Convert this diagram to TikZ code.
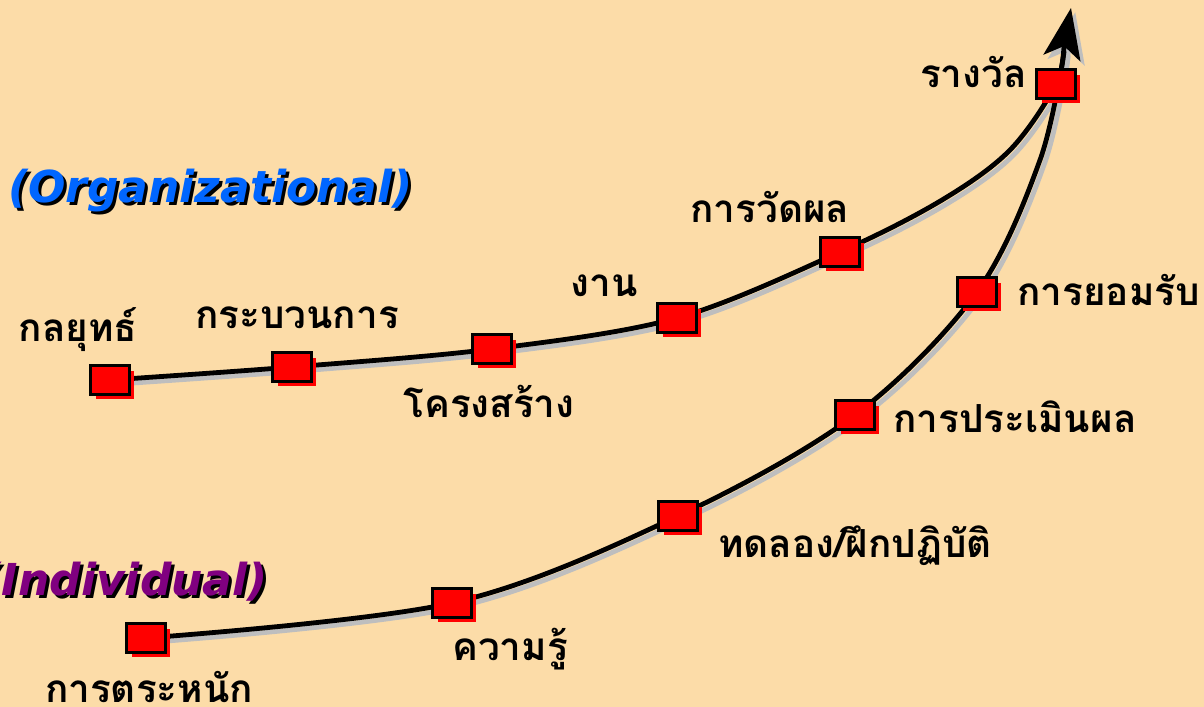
\documentclass[tikz,border=0pt]{standalone}
\usepackage{fontspec}
\newfontfamily\thaifont[Script=Thai]{Loma}
\newfontfamily\latfont{DejaVu Sans}
\usetikzlibrary{arrows.meta,shadows}
\definecolor{bg}{HTML}{FCDCA8}
\definecolor{orgblue}{HTML}{0066FF}
\definecolor{indpurple}{HTML}{800080}
\definecolor{lineshadow}{HTML}{BEBEBE}
\tikzset{
  sq/.style={draw=black, line width=2.2pt, fill=red, minimum width=29pt, minimum height=21.5pt, inner sep=0pt,
    drop shadow={fill=red, opacity=1, shadow xshift=3.8pt, shadow yshift=-3.8pt}},
  lbl/.style={font=\thaifont\bfseries\fontsize{29}{31}\selectfont, inner sep=0pt, text=black},
  ttl/.style={font=\latfont\bfseries\itshape\fontsize{33}{36}\selectfont, inner sep=0pt},
  curve/.style={line width=3.6pt, line cap=round},
  tip/.style={-{Stealth[length=38pt, width=28pt, inset=9pt]}},
}
\begin{document}
\begin{tikzpicture}[x=0.75pt,y=-0.75pt]
\fill[bg] (0,0) rectangle (1204,707);
\useasboundingbox (0,0) rectangle (1204,707);
% path points
\coordinate (u1) at (110,380);
\coordinate (u2) at (292,367);
\coordinate (u3) at (492,349);
\coordinate (u4) at (677,318);
\coordinate (u5) at (840,252);
\coordinate (ua) at (942,200);
\coordinate (ub) at (1010,150);
\coordinate (u6) at (1056,84);
\coordinate (uc) at (1065,40);
\coordinate (ut) at (1071,8);
\coordinate (l1) at (146,638);
\coordinate (l2) at (452,603);
\coordinate (l3) at (678,516);
\coordinate (l4) at (855,415);
\coordinate (l5) at (977,292);
\coordinate (l6) at (1040,160);
\coordinate (le) at (1064,52);
% shadows of the curves
\begin{scope}[transform canvas={xshift=3.2pt,yshift=-3.2pt}, lineshadow, draw=lineshadow, fill=lineshadow]
  \draw[curve, tip] plot[smooth, tension=0.55] coordinates {(u1) (u2) (u3) (u4) (u5) (ua) (ub) (u6) (uc) (ut)};
  \draw[curve] plot[smooth, tension=0.55] coordinates {(l1) (l2) (l3) (l4) (l5) (l6) (le)};
\end{scope}
% curves
\draw[curve] plot[smooth, tension=0.55] coordinates {(l1) (l2) (l3) (l4) (l5) (l6) (le)};
\draw[curve, tip] plot[smooth, tension=0.55] coordinates {(u1) (u2) (u3) (u4) (u5) (ua) (ub) (u6) (uc) (ut)};
% squares
\node[sq] (su1) at (u1) {};
\node[sq] (su2) at (u2) {};
\node[sq] (su3) at (u3) {};
\node[sq] (su4) at (u4) {};
\node[sq] (su5) at (u5) {};
\node[sq] (su6) at (u6) {};
\node[sq] (sl1) at (l1) {};
\node[sq] (sl2) at (l2) {};
\node[sq] (sl3) at (l3) {};
\node[sq] (sl4) at (l4) {};
\node[sq] (sl5) at (l5) {};
% titles
\node[ttl, anchor=base east, text=black] (orgsh) at (416,205) {(Organizational)};
\node[ttl, anchor=base east, text=orgblue] (org) at (413,202) {(Organizational)};
\node[ttl, anchor=base east, text=black] (indsh) at (271,598) {(Individual)};
\node[ttl, anchor=base east, text=indpurple] (ind) at (268,595) {(Individual)};
% labels
\node[lbl, anchor=base east] (t1) at (1027,87) {รางวัล};
\node[lbl, anchor=base] (t2) at (770,222) {การวัดผล};
\node[lbl, anchor=base] (t3) at (604,296) {งาน};
\node[lbl, anchor=base] (t4) at (297,328) {กระบวนการ};
\node[lbl, anchor=base] (t5) at (78,341) {กลยุทธ์};
\node[lbl, anchor=base] (t6) at (489,417) {โครงสร้าง};
\node[lbl, anchor=base west] (t7) at (1017,305) {การยอมรับ};
\node[lbl, anchor=base west] (t8) at (893,432) {การประเมินผล};
\node[lbl, anchor=base west] (t9) at (718,557) {ทดลอง/ฝึกปฏิบัติ};
\node[lbl, anchor=base] (t10) at (510,660) {ความรู้};
\node[lbl, anchor=base] (t11) at (149,702) {การตระหนัก};
\end{tikzpicture}
\end{document}
